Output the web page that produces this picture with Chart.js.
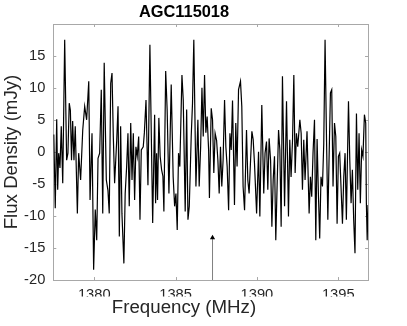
<!DOCTYPE html>
<html>
<head>
<meta charset="utf-8">
<script src="https://cdn.jsdelivr.net/npm/chart.js@4.4.1/dist/chart.umd.min.js"></script>
<style>
  html, body { margin: 0; padding: 0; background: #fff; }
  canvas { display: block; }
</style>
</head>
<body>
<canvas id="specChart" width="407" height="326"></canvas>
<script>
const titleText = 'AGC115018';
const xLabel = 'Frequency (MHz)';
const yLabel = 'Flux Density (mJy)';

const freqMin = 1377.48;
const freqMax = 1396.83;
const fluxMin = -20;
const fluxMax = 19.95;

// spectrum (MHz, mJy)
const freq = [
  1377.51,1377.60,1377.69,1377.75,1377.81,1377.89,1377.97,1378.06,1378.18,1378.30,
  1378.38,1378.46,1378.53,1378.60,1378.67,1378.75,1378.83,1378.96,1379.04,1379.16,
  1379.29,1379.41,1379.53,1379.66,1379.74,1379.86,1379.96,1380.06,1380.15,1380.23,
  1380.33,1380.43,1380.52,1380.61,1380.74,1380.84,1380.92,1381.01,1381.09,1381.17,
  1381.25,1381.38,1381.46,1381.54,1381.62,1381.70,1381.82,1381.90,1381.99,1382.07,
  1382.15,1382.24,1382.32,1382.40,1382.48,1382.56,1382.64,1382.73,1382.81,1382.89,
  1383.01,1383.08,1383.18,1383.30,1383.42,1383.59,1383.71,1383.77,1383.83,1383.89,
  1383.97,1384.05,1384.14,1384.22,1384.28,1384.39,1384.48,1384.59,1384.73,1384.85,
  1384.94,1385.02,1385.10,1385.18,1385.26,1385.39,1385.47,1385.59,1385.68,1385.76,
  1385.84,1385.96,1386.04,1386.12,1386.25,1386.37,1386.45,1386.54,1386.62,1386.70,
  1386.78,1386.86,1386.94,1387.03,1387.08,1387.19,1387.27,1387.35,1387.43,1387.52,
  1387.60,1387.68,1387.76,1387.84,1387.92,1388.01,1388.09,1388.17,1388.26,1388.34,
  1388.42,1388.50,1388.62,1388.70,1388.78,1388.87,1388.99,1389.07,1389.15,1389.24,
  1389.36,1389.44,1389.52,1389.61,1389.69,1389.77,1389.85,1389.98,1390.10,1390.18,
  1390.30,1390.42,1390.50,1390.59,1390.67,1390.75,1390.84,1390.92,1391.00,1391.08,
  1391.16,1391.24,1391.33,1391.41,1391.49,1391.57,1391.70,1391.82,1391.94,1392.02,
  1392.10,1392.19,1392.27,1392.35,1392.43,1392.51,1392.64,1392.72,1392.80,1392.88,
  1392.96,1393.08,1393.21,1393.29,1393.37,1393.45,1393.54,1393.62,1393.70,1393.78,
  1393.86,1393.94,1394.03,1394.11,1394.19,1394.28,1394.36,1394.43,1394.52,1394.60,
  1394.68,1394.77,1394.85,1394.93,1395.01,1395.09,1395.17,1395.26,1395.34,1395.42,
  1395.50,1395.63,1395.71,1395.79,1395.87,1395.95,1396.03,1396.12,1396.20,1396.28,
  1396.36,1396.44,1396.52,1396.61,1396.69,1396.73,1396.78,1396.83
];
const flux = [
  2.7,-8.8,5.1,-5.9,-0.2,-2.5,4.0,-4.9,17.5,-1.3,
  -0.2,7.6,6.5,-1.3,4.8,-1.3,4.0,-9.6,-0.2,-4.4,
  3.4,7.1,5.0,11.0,-7.5,2.9,-18.4,-9.0,-13.8,-1.0,
  -0.2,9.7,-9.6,13.9,-4.4,-6.0,-9.6,10.7,12.3,2.4,
  -4.9,1.8,7.1,-13.2,4.0,-9.6,-17.4,-6.5,-2.3,2.9,
  -8.5,4.5,-4.4,2.9,-7.5,0.8,-0.7,2.4,-10.6,0.3,
  0.8,3.0,8.1,-5.2,16.7,-11.1,5.8,-8.0,-0.2,-7.5,
  5.3,-0.7,-2.8,-3.8,-9.3,12.6,6.6,-6.5,10.5,-3.9,
  -8.5,-6.5,-12.2,-0.2,-2.3,12.0,8.1,-9.3,6.6,-10.6,
  -8.5,2.4,7.6,17.5,-5.4,5.0,-5.4,0.8,10.0,2.4,
  12.0,3.0,5.5,0.3,-7.2,6.8,5.0,-3.3,2.9,1.8,
  -1.3,-6.5,0.8,-5.4,-1.3,8.1,0.8,-2.3,-9.1,2.9,
  0.3,8.0,-8.3,4.5,-2.3,9.7,11.0,7.1,-5.4,-9.1,
  3.4,-4.4,-6.5,-1.3,3.2,1.9,-1.8,-9.6,0.0,-10.1,
  7.3,-6.5,-0.2,1.6,-5.9,2.1,-1.3,-11.7,-4.4,-0.7,
  -13.8,-5.4,3.4,0.3,-11.7,11.8,-8.5,7.9,-10.1,1.9,
  -3.9,1.9,12.0,-3.3,2.9,0.8,5.0,2.9,-5.9,1.9,
  -4.4,3.2,-9.6,-3.9,-7.0,-0.2,5.0,-13.8,2.0,-6.5,
  -13.5,-3.9,-5.4,1.3,17.5,1.9,-10.6,-1.8,9.2,9.7,
  -5.4,4.5,2.4,-11.2,-0.7,-0.2,-5.4,-11.2,-3.9,-0.2,
  -10.6,7.9,-1.3,-8.0,-2.8,-10.6,-15.8,6.0,-5.9,2.9,
  -8.0,0.3,-0.7,5.8,4.5,-8.0,-13.8,-8.3
];

// marker arrow (expected line position)
const arrowFreq = [1387.27, 1387.27];
const arrowFlux = [-20, -13.4];

const axisColor = '#262626';
const frameColor = '#a8a8a8';
const fontFamily = '"Liberation Sans", Arial, Helvetica, sans-serif';

// MATLAB style box with inward tick marks
const boxTicks = {
  id: 'boxTicks',
  beforeDatasetsDraw(chart) {
    const { ctx, chartArea: a, scales } = chart;
    const len = 3;
    ctx.save();
    ctx.strokeStyle = frameColor;
    ctx.lineWidth = 1;
    ctx.strokeRect(Math.round(a.left) + 0.5, Math.round(a.top) + 0.5,
      Math.round(a.right - a.left), Math.round(a.bottom - a.top));
    ctx.beginPath();
    scales.x.ticks.forEach(t => {
      const px = Math.round(scales.x.getPixelForValue(t.value)) + 0.5;
      ctx.moveTo(px, a.bottom); ctx.lineTo(px, a.bottom - len);
      ctx.moveTo(px, a.top); ctx.lineTo(px, a.top + len);
    });
    scales.y.ticks.forEach(t => {
      const py = Math.round(scales.y.getPixelForValue(t.value)) + 0.5;
      ctx.moveTo(a.left, py); ctx.lineTo(a.left + len, py);
      ctx.moveTo(a.right, py); ctx.lineTo(a.right - len, py);
    });
    ctx.stroke();
    ctx.restore();
  }
};

const ctx = document.getElementById('specChart').getContext('2d');
new Chart(ctx, {
  type: 'line',
  data: {
    datasets: [
      {
        data: freq.map((f, i) => ({ x: f, y: flux[i] })),
        borderColor: '#000',
        borderWidth: 1.2,
        pointRadius: 0,
        tension: 0
      },
      {
        data: arrowFreq.map((f, i) => ({ x: f, y: arrowFlux[i] })),
        borderColor: '#808080',
        borderWidth: 1,
        pointRadius: [0, 3],
        pointStyle: 'triangle',
        pointBackgroundColor: '#000',
        pointBorderColor: '#000',
        pointBorderWidth: 0
      }
    ]
  },
  options: {
    responsive: false,
    animation: false,
    devicePixelRatio: 1,
    layout: { padding: { left: 0, right: 39, top: 0, bottom: 0 } },
    plugins: {
      legend: { display: false },
      tooltip: { enabled: false },
      title: {
        display: true,
        text: titleText,
        color: '#000',
        font: { family: fontFamily, size: 16.4, weight: 'bold' },
        padding: { top: 2.5, bottom: 1.8 }
      },
      subtitle: {
        display: true,
        position: 'bottom',
        text: xLabel,
        color: axisColor,
        font: { family: fontFamily, size: 18.7 },
        padding: { top: 0, bottom: 7 }
      }
    },
    scales: {
      x: {
        type: 'linear',
        min: freqMin,
        max: freqMax,
        grid: { display: false, drawTicks: false },
        border: { display: false },
        ticks: {
          stepSize: 5,
          includeBounds: false,
          color: axisColor,
          padding: 6,
          maxRotation: 0,
          font: { family: fontFamily, size: 14.7 },
          callback: v => String(v)
        },
        afterFit(scale) { scale.height = 16.5; }
      },
      y: {
        min: fluxMin,
        max: fluxMax,
        grid: { display: false, drawTicks: false },
        border: { display: false },
        ticks: {
          stepSize: 5,
          includeBounds: false,
          color: axisColor,
          padding: 8,
          font: { family: fontFamily, size: 14.7 }
        },
        title: {
          display: true,
          text: yLabel,
          color: axisColor,
          font: { family: fontFamily, size: 18.7 },
          padding: { top: 1, bottom: 0 }
        },
        afterFit(scale) { scale.width = 53.3; }
      }
    }
  },
  plugins: [boxTicks]
});
</script>
</body>
</html>
